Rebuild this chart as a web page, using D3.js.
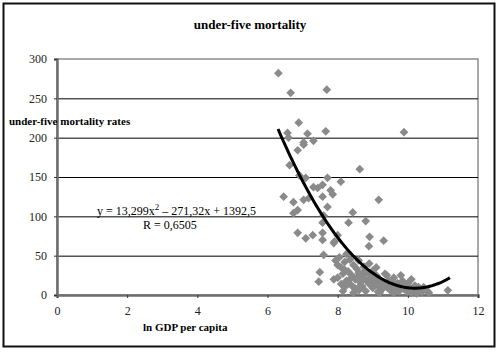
<!DOCTYPE html>
<html>
<head>
<meta charset="utf-8">
<script src="https://cdn.jsdelivr.net/npm/d3@7"></script>
<style>
  body { margin: 0; background: #fff; }
  svg text { font-family: "Liberation Serif", "DejaVu Serif", "Times New Roman", serif; }
</style>
</head>
<body>
<div id="chart"></div>
<script>
// ln GDP per capita vs under-five mortality rate
const lnGdp = [
  6.31, 6.66, 7.69, 6.89, 6.57, 7.14, 7.66, 7.03, 7.31, 6.60, 6.86, 7.03, 6.63, 6.91, 7.09,
  7.71, 7.31, 7.57, 7.80, 7.43, 7.57, 6.46, 6.74, 7.03, 7.17, 6.86, 6.74, 7.71, 7.57, 7.60,
  6.86, 7.09, 7.29, 7.57, 7.57, 7.89, 7.60, 7.94, 8.00, 7.49, 7.46, 7.89, 8.09, 7.86, 8.63,
  9.17, 8.43, 8.31, 8.80, 8.91, 8.89, 9.31, 9.89, 8.00, 7.91, 11.14,
  8.05, 8.10, 8.15, 8.20, 8.00, 8.10, 8.25, 8.20, 8.30, 8.35, 8.40, 8.45, 8.50, 8.40, 8.55,
  8.60, 8.50, 8.65, 8.70, 8.75, 8.80, 8.70, 8.85, 8.90, 8.95, 9.00, 9.00, 9.05, 9.10, 9.15,
  9.20, 9.25, 9.30, 9.35, 9.40, 9.45, 9.50, 9.55, 9.60, 9.65, 9.70, 9.75, 9.80, 9.85, 9.90,
  9.95, 10.00, 10.05, 10.10, 10.15, 10.20, 10.30, 10.35, 10.40, 10.45, 10.55, 10.60, 8.25, 8.60, 9.10,
  8.15, 8.45, 8.80, 9.20, 9.60, 10.25, 8.35, 8.90, 9.40, 9.80, 10.00, 8.60,
  8.30, 8.55, 8.75, 9.05, 9.30, 9.55, 9.75, 10.10, 10.30, 10.50, 8.20, 8.65, 9.15, 9.45, 9.95
];
const u5mr = [
  282, 257, 261, 219, 206, 205, 208, 194, 196, 200, 184, 191, 165, 152, 149,
  149, 137, 140, 133, 136, 125, 125, 118, 121, 123, 108, 104, 112, 92, 101,
  79, 72, 76, 79, 70, 66, 51, 44, 38, 29, 17, 20, 144, 128, 160,
  121, 105, 92, 94, 74, 62, 69, 207, 76, 68, 6,
  48, 35, 27, 42, 22, 14, 18, 10, 30, 45, 25, 38, 20, 12, 33,
  28, 8, 16, 24, 36, 19, 11, 28, 14, 22, 31, 9, 17, 25, 12,
  20, 7, 15, 27, 10, 18, 6, 13, 22, 9, 15, 5, 11, 18, 7,
  13, 4, 9, 20, 6, 12, 5, 8, 4, 10, 5, 3, 52, 44, 35,
  5, 3, 5, 3, 3, 2, 20, 40, 25, 25, 15, 6,
  15, 22, 30, 20, 9, 17, 12, 3, 10, 7, 32, 12, 4, 13, 8
];

// polynomial trend shown on the chart: y = 13,299x^2 - 271,32x + 1392,5
const trendCoef = [13.299, -271.32, 1392.5];
const trendRange = [6.3, 11.2];

const xTicks = [0, 2, 4, 6, 8, 10, 12];
const yTicks = [0, 50, 100, 150, 200, 250, 300];

const width = 500, height = 353;
const margin = {top: 59, right: 22, bottom: 58, left: 57};

const svg = d3.select("#chart").append("svg")
    .attr("width", width)
    .attr("height", height);

// outer frame
svg.append("rect")
    .attr("x", 3.5).attr("y", 3.5)
    .attr("width", 491).attr("height", 343)
    .attr("fill", "#fff")
    .attr("stroke", "#111")
    .attr("stroke-width", 2);

const x = d3.scaleLinear().domain([0, 12]).range([margin.left, width - margin.right]);
const y = d3.scaleLinear().domain([0, 300]).range([height - margin.bottom, margin.top]);

// plot border
svg.append("rect")
    .attr("x", x(0)).attr("y", y(300))
    .attr("width", x(12) - x(0)).attr("height", y(0) - y(300))
    .attr("fill", "none")
    .attr("stroke", "#8c8c8c")
    .attr("stroke-width", 1.5);

// gridlines
svg.append("g")
    .selectAll("line")
    .data(yTicks.filter(d => d > 0 && d < 300))
    .enter().append("line")
    .attr("x1", x(0)).attr("x2", x(12))
    .attr("y1", d => y(d) + 0.5).attr("y2", d => y(d) + 0.5)
    .attr("stroke", "#000")
    .attr("stroke-width", 1);

// axes
const xAxis = svg.append("g")
    .attr("transform", `translate(0, ${y(0)})`)
    .call(d3.axisBottom(x).tickValues(xTicks).tickSize(3).tickPadding(8));
const yAxis = svg.append("g")
    .attr("transform", `translate(${x(0)}, 0)`)
    .call(d3.axisLeft(y).tickValues(yTicks).tickSize(3).tickPadding(7));

[xAxis, yAxis].forEach(a => {
    a.attr("font-family", null);
    a.select(".domain").attr("stroke", "#6e6e6e").attr("stroke-width", 2.5);
    a.selectAll(".tick line").attr("stroke", "#333");
    a.selectAll(".tick text")
        .attr("fill", "#222")
        .style("font-size", "12px");
});

// scatter: rotated squares like Excel's diamond markers
const points = lnGdp.map((d, i) => ({x: d, y: u5mr[i]}));
svg.append("g")
    .selectAll("path")
    .data(points)
    .enter().append("path")
    .attr("d", d3.symbol().type(d3.symbolSquare).size(38))
    .attr("transform", d => `translate(${x(d.x)}, ${y(d.y)}) rotate(45)`)
    .attr("fill", "#8a8a8a");

// trend line
const trendX = d3.range(trendRange[0], trendRange[1] + 0.001, 0.05);
const line = d3.line()
    .x(d => x(d))
    .y(d => y(trendCoef[0] * d * d + trendCoef[1] * d + trendCoef[2]))
    .curve(d3.curveBasis);
svg.append("path")
    .datum(trendX)
    .attr("d", line)
    .attr("fill", "none")
    .attr("stroke", "#000")
    .attr("stroke-width", 3);

// title
svg.append("text")
    .attr("x", 250).attr("y", 29)
    .attr("text-anchor", "middle")
    .style("font-weight", "bold")
    .style("font-size", "13px")
    .text("under-five mortality");

// axis labels
svg.append("text")
    .attr("x", 9).attr("y", 125)
    .style("font-weight", "bold")
    .style("font-size", "11px")
    .text("under-five mortality rates");

svg.append("text")
    .attr("x", 143).attr("y", 331)
    .style("font-weight", "bold")
    .style("font-size", "11px")
    .text("ln GDP per capita");

// equation
const eq = svg.append("text")
    .attr("x", 97).attr("y", 215)
    .style("font-size", "12px");
eq.append("tspan").text("y = 13,299x");
eq.append("tspan").attr("dy", -5).style("font-size", "9px").text("2");
eq.append("tspan").attr("dy", 5).text(" \u2013 271,32x + 1392,5");

svg.append("text")
    .attr("x", 143).attr("y", 229)
    .style("font-size", "12px")
    .text("R  = 0,6505");
</script>
</body>
</html>
